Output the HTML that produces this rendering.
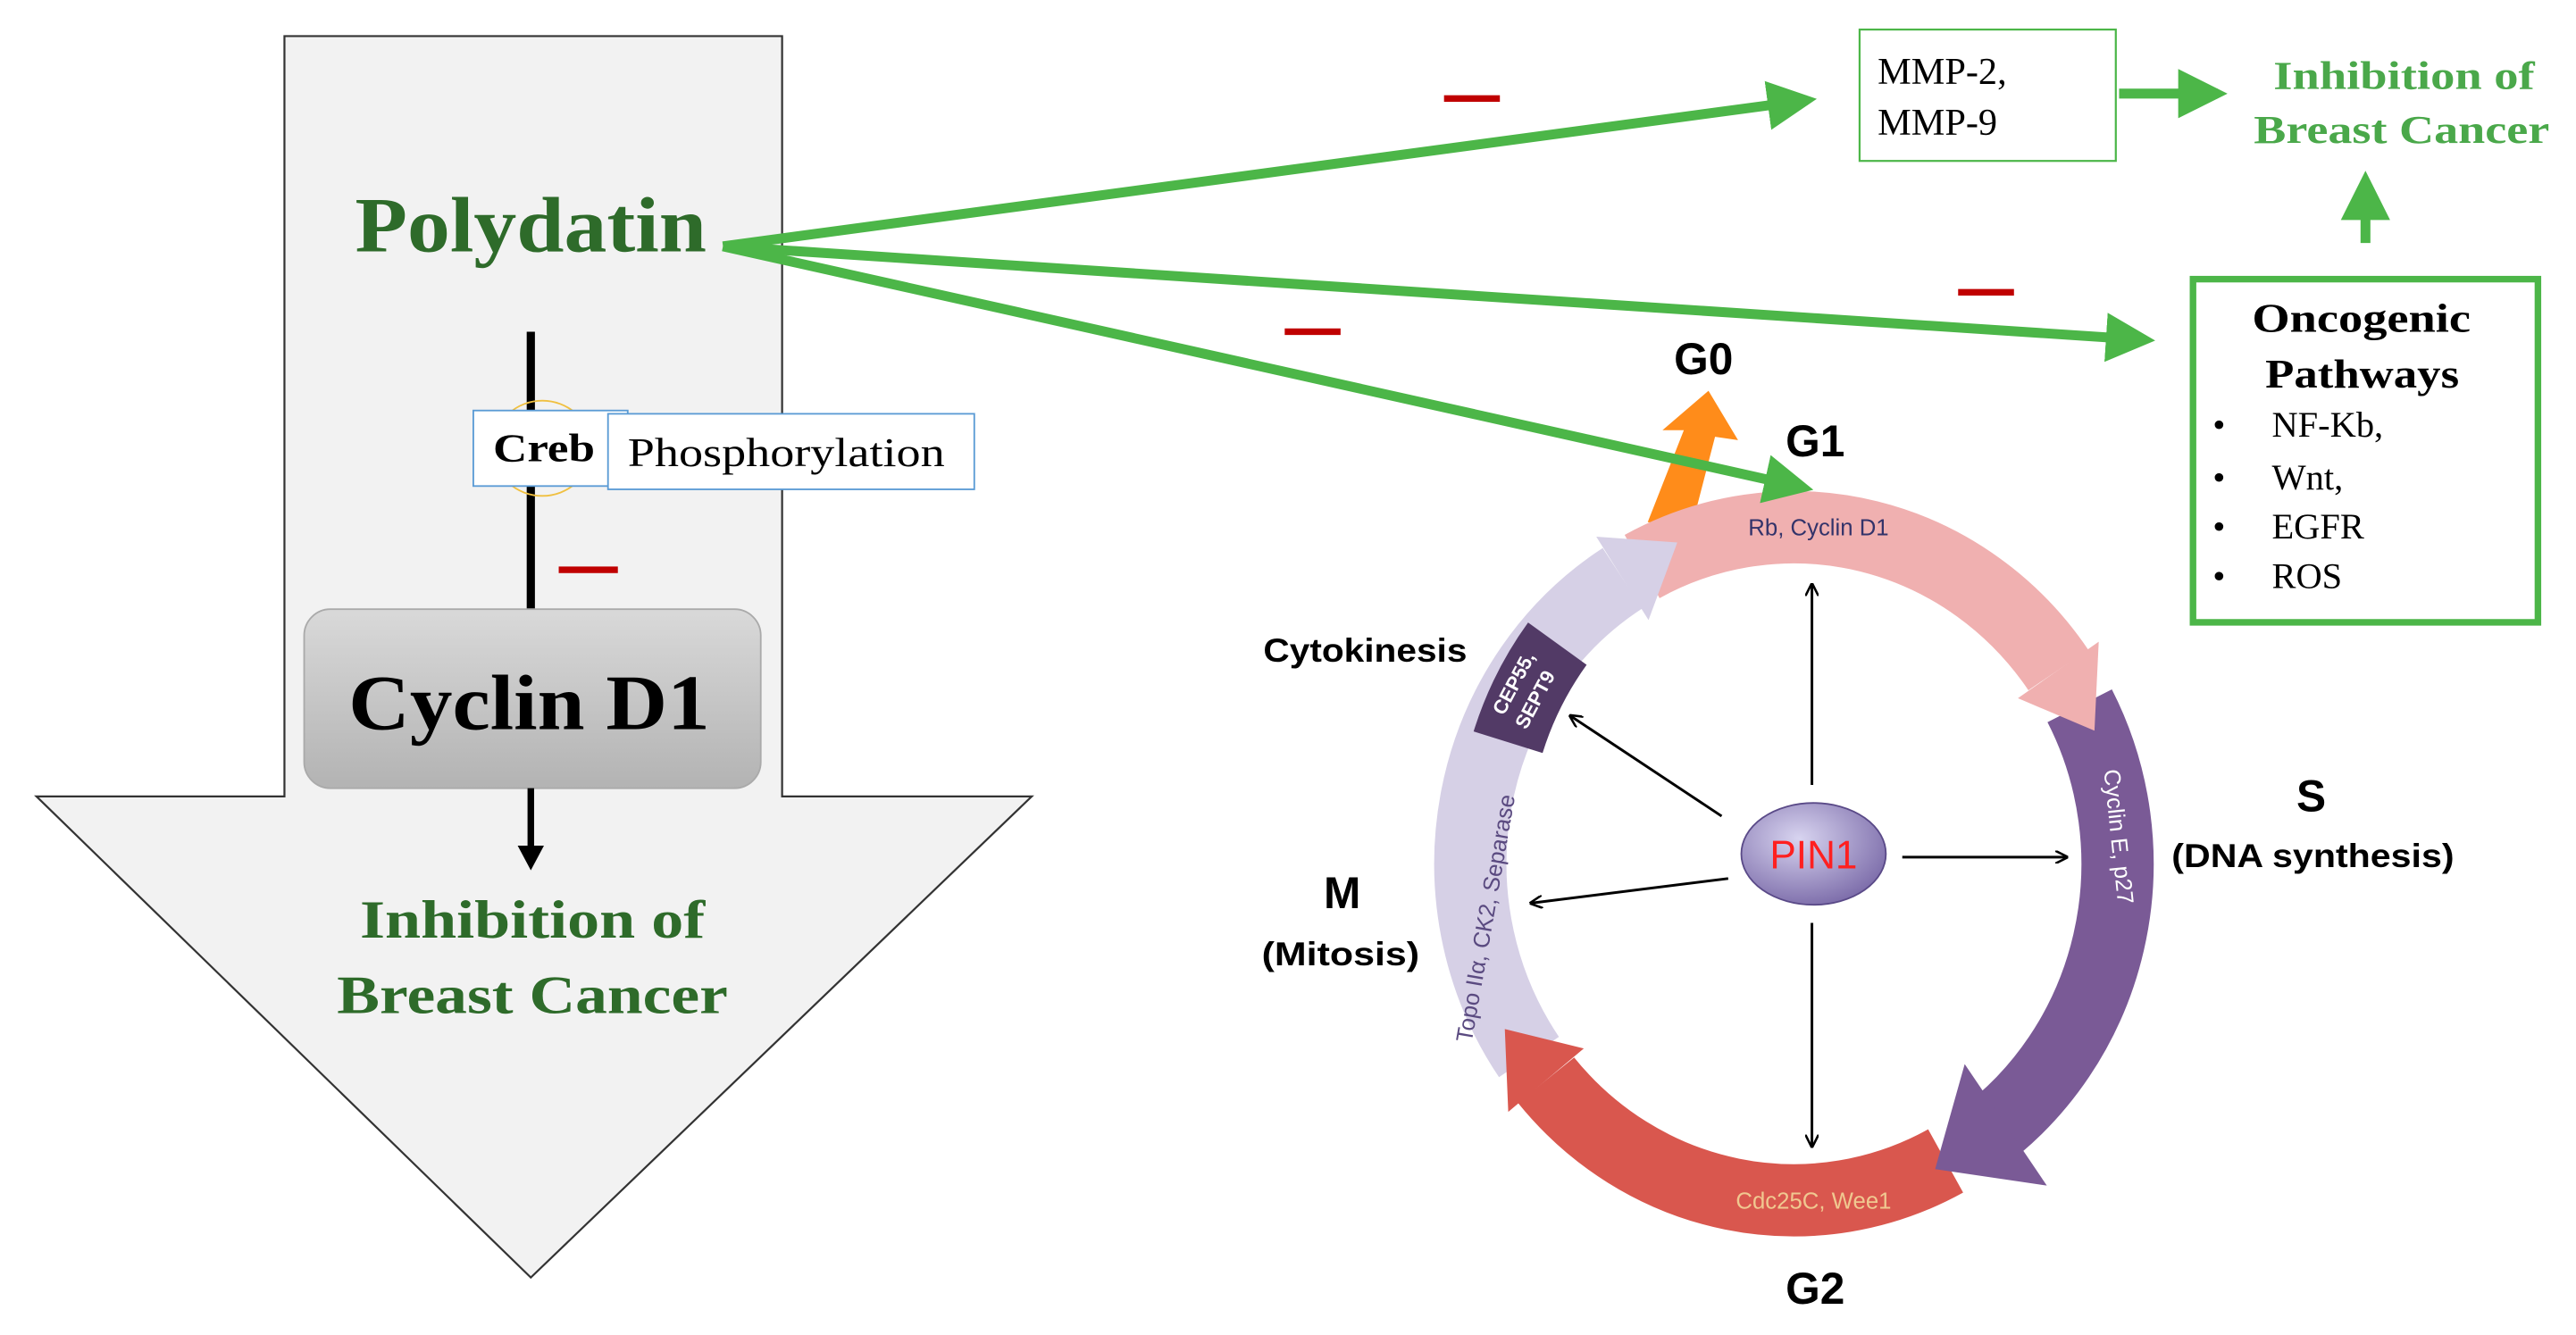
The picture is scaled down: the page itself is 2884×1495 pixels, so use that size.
<!DOCTYPE html>
<html><head><meta charset="utf-8"><style>
html,body{margin:0;padding:0;background:#fff;}
svg{display:block}
.serif{font-family:"Liberation Serif",serif;}
.sans{font-family:"Liberation Sans",sans-serif;}
</style></head><body>
<svg width="2884" height="1495" viewBox="0 0 1568 813" xmlns="http://www.w3.org/2000/svg">
<defs>
<linearGradient id="cy" x1="0" y1="0" x2="0" y2="1"><stop offset="0" stop-color="#d9d9d9"/><stop offset="1" stop-color="#b3b3b3"/></linearGradient>
<radialGradient id="pin" cx="0.4" cy="0.35" r="0.7"><stop offset="0" stop-color="#d8d4f0"/><stop offset="1" stop-color="#7a6aa8"/></radialGradient>
<marker id="ga" markerWidth="5" markerHeight="5" refX="4" refY="2.5" orient="auto" markerUnits="strokeWidth"><path d="M0,0 L5,2.5 L0,5 z" fill="#4cb648"/></marker>
<marker id="ka" markerWidth="8" markerHeight="8" refX="7" refY="4" orient="auto" markerUnits="userSpaceOnUse"><path d="M0,0 L8,4 L0,8" fill="none" stroke="#000" stroke-width="1.4"/></marker>
</defs>
<polygon points="173,22 476,22 476,485 628,485 323,778 22,485 173,485" fill="#f2f2f2" stroke="#333" stroke-width="1.2"/>
<text x="216" y="153" textLength="214" lengthAdjust="spacingAndGlyphs" class="serif" font-weight="bold" font-size="48" fill="#2e6b2a">Polydatin</text>
<line x1="323" y1="202" x2="323" y2="372" stroke="#000" stroke-width="5"/>
<ellipse cx="330" cy="273" rx="30" ry="29" fill="none" stroke="#f0c040" stroke-width="1"/>
<rect x="288" y="250" width="94" height="46" fill="#fff" stroke="#5b9bd5" stroke-width="1"/>
<text x="300" y="281" textLength="62" lengthAdjust="spacingAndGlyphs" class="serif" font-weight="bold" font-size="24">Creb</text>
<rect x="370" y="252" width="223" height="46" fill="#fff" stroke="#5b9bd5" stroke-width="1"/>
<text x="382" y="284" textLength="193" lengthAdjust="spacingAndGlyphs" class="serif" font-size="25">Phosphorylation</text>
<rect x="340" y="345" width="36" height="4" fill="#c00000"/>
<rect x="185" y="371" width="278" height="109" rx="16" fill="url(#cy)" stroke="#aaa" stroke-width="1"/>
<text x="212" y="444" textLength="220" lengthAdjust="spacingAndGlyphs" class="serif" font-weight="bold" font-size="48">Cyclin D1</text>
<line x1="323" y1="480" x2="323" y2="518" stroke="#000" stroke-width="4"/>
<polygon points="315,515 331,515 323,530" fill="#000"/>
<text x="219" y="571" textLength="210" lengthAdjust="spacingAndGlyphs" class="serif" font-weight="bold" font-size="33" fill="#2e6b2a">Inhibition of</text>
<text x="205" y="617" textLength="238" lengthAdjust="spacingAndGlyphs" class="serif" font-weight="bold" font-size="33" fill="#2e6b2a">Breast Cancer</text>

<polygon points="1003,318 1025,262 1012,262 1040,238 1058,268 1044,266 1030,320" fill="#ff8c1a"/>
<g fill="none" stroke-width="44">
<path d="M999.6 345 A197 205 0 0 1 1253 408" stroke="#f0b0b0"/>
<path d="M1266 429.8 A197 205 0 0 1 1205 694" stroke="#7a5a96"/>
<path d="M1184.4 707 A197 205 0 0 1 941.1 657.8" stroke="#d9574e"/>
<path d="M930.7 643.7 A197 205 0 0 1 987.6 352.2" stroke="#d6d0e6"/>
<path d="M918 452 A197 205 0 0 1 948 392" stroke="#523a66"/>
</g>
<polygon points="1277.6,390.8 1228.4,425.2 1275,445" fill="#f0b0b0"/>
<polygon points="1196,648 1246,722 1178,712" fill="#7a5a96"/>
<polygon points="918.1,677.1 964.1,638.5 916,626.7" fill="#d9574e"/>
<polygon points="971.7,326.8 1003.5,377.6 1021,330.4" fill="#d6d0e6"/>
<text x="1107" y="326" text-anchor="middle" class="sans" font-size="14" fill="#33336a">Rb, Cyclin D1</text>
<text transform="translate(1285,510) rotate(84)" text-anchor="middle" class="sans" font-size="14" fill="#fff">Cyclin E, p27</text>
<text x="1104" y="736" text-anchor="middle" class="sans" font-size="14" fill="#f0c890">Cdc25C, Wee1</text>
<text transform="translate(909,560) rotate(-80)" text-anchor="middle" class="sans" font-size="14" fill="#5a4a80">Topo IIα, CK2, Separase</text>
<text transform="translate(925,418) rotate(-62)" text-anchor="middle" class="sans" font-size="12" font-weight="bold" fill="#fff">CEP55,</text>
<text transform="translate(938,428) rotate(-62)" text-anchor="middle" class="sans" font-size="12" font-weight="bold" fill="#fff">SEPT9</text>
<g stroke="#000" stroke-width="1.6" marker-end="url(#ka)">
<line x1="1103" y1="478" x2="1103" y2="356"/>
<line x1="1103" y1="562" x2="1103" y2="698"/>
<line x1="1158" y1="522" x2="1258" y2="522"/>
<line x1="1052" y1="535" x2="932" y2="550"/>
<line x1="1048" y1="497" x2="956" y2="436"/>
</g>
<ellipse cx="1104" cy="520" rx="44" ry="31" fill="url(#pin)" stroke="#5a4a88" stroke-width="1"/>
<text x="1104" y="529" text-anchor="middle" class="sans" font-size="24" fill="#ff2020">PIN1</text>
<g class="sans" font-weight="bold" fill="#000" text-anchor="middle">
<text x="1037" y="228" font-size="27">G0</text>
<text x="1105" y="278" font-size="27">G1</text>
<text x="1105" y="794" font-size="27">G2</text>
<text x="1407" y="494" font-size="27">S</text>
<text x="1408" y="528" font-size="20" textLength="172" lengthAdjust="spacingAndGlyphs">(DNA synthesis)</text>
<text x="817" y="553" font-size="27">M</text>
<text x="816" y="588" font-size="20" textLength="96" lengthAdjust="spacingAndGlyphs">(Mitosis)</text>
<text x="831" y="403" font-size="20" textLength="124" lengthAdjust="spacingAndGlyphs">Cytokinesis</text>
</g>

<g stroke="#4cb648" stroke-width="6" fill="none" marker-end="url(#ga)">
<line x1="440" y1="150" x2="1100" y2="61"/>
<line x1="440" y1="150" x2="1306" y2="207"/>
<line x1="440" y1="150" x2="1098" y2="297"/>
<line x1="1290" y1="57" x2="1350" y2="57"/>
<line x1="1440" y1="148" x2="1440" y2="110"/>
</g>
<rect x="879" y="58" width="34" height="4" fill="#c00000"/>
<rect x="782" y="200" width="34" height="4" fill="#c00000"/>
<rect x="1192" y="176" width="34" height="4" fill="#c00000"/>

<rect x="1132" y="18" width="156" height="80" fill="#fff" stroke="#4cb648" stroke-width="1.2"/>
<text x="1143" y="51" class="serif" font-size="23">MMP-2,</text>
<text x="1143" y="82" class="serif" font-size="23">MMP-9</text>
<text x="1384" y="54" textLength="159" lengthAdjust="spacingAndGlyphs" class="serif" font-weight="bold" font-size="24" fill="#4aa84a">Inhibition of</text>
<text x="1372" y="87" textLength="180" lengthAdjust="spacingAndGlyphs" class="serif" font-weight="bold" font-size="24" fill="#4aa84a">Breast Cancer</text>

<rect x="1335" y="170" width="210" height="209" fill="#fff" stroke="#4cb648" stroke-width="4"/>
<g class="serif" font-size="22">
<text x="1371" y="202" textLength="133" lengthAdjust="spacingAndGlyphs" font-weight="bold" font-size="25">Oncogenic</text>
<text x="1379" y="236" textLength="118" lengthAdjust="spacingAndGlyphs" font-weight="bold" font-size="25">Pathways</text>
<text x="1347" y="266">•</text><text x="1383" y="266">NF-Kb,</text>
<text x="1347" y="298">•</text><text x="1383" y="298">Wnt,</text>
<text x="1347" y="328">•</text><text x="1383" y="328">EGFR</text>
<text x="1347" y="358">•</text><text x="1383" y="358">ROS</text>
</g>
</svg>
</body></html>
